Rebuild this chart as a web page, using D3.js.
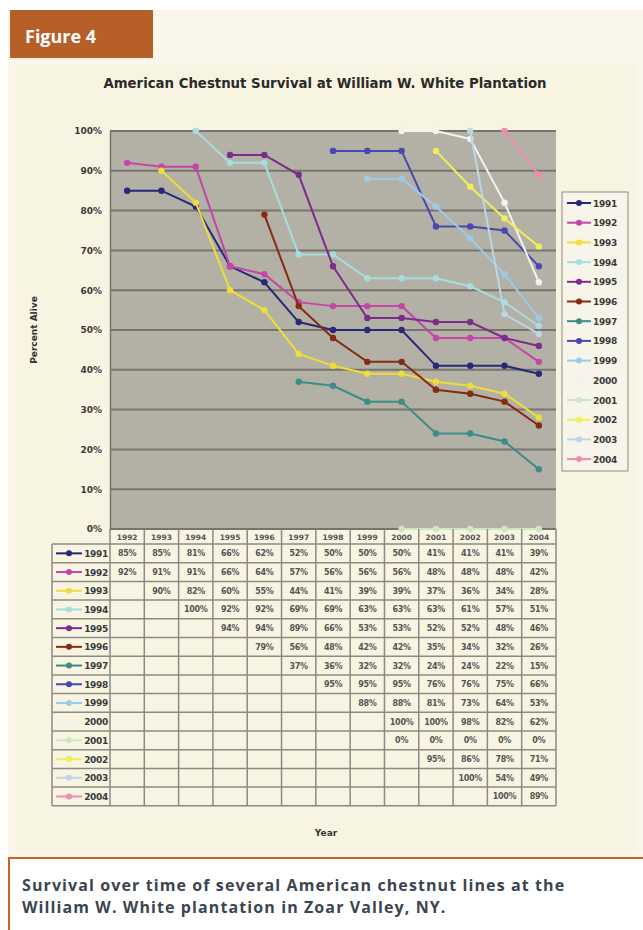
<!DOCTYPE html>
<html>
<head>
<meta charset="utf-8">
<script src="https://cdn.jsdelivr.net/npm/d3@7"></script>
<style>
  body { margin: 0; background: #fff; }
  svg { display: block; }
</style>
</head>
<body>
<div id="chart"></div>
<script>
const years = ['1992', '1993', '1994', '1995', '1996', '1997', '1998', '1999', '2000', '2001', '2002', '2003', '2004']
const lines = ['1991', '1992', '1993', '1994', '1995', '1996', '1997', '1998', '1999', '2000', '2001', '2002', '2003', '2004']
const colors = ['#28287a', '#c446a8', '#eedd3a', '#a6dede', '#7e2c8c', '#862a12', '#3c8c88', '#4a48b0',
  '#9ccbe8', '#f2f2ee', '#cfe6c2', '#f2ee5a', '#bcd6e8', '#ee8cb0']
const _ = null
const values = [
  [85, 85, 81, 66, 62, 52, 50, 50, 50, 41, 41, 41, 39],
  [92, 91, 91, 66, 64, 57, 56, 56, 56, 48, 48, 48, 42],
  [_, 90, 82, 60, 55, 44, 41, 39, 39, 37, 36, 34, 28],
  [_, _, 100, 92, 92, 69, 69, 63, 63, 63, 61, 57, 51],
  [_, _, _, 94, 94, 89, 66, 53, 53, 52, 52, 48, 46],
  [_, _, _, _, 79, 56, 48, 42, 42, 35, 34, 32, 26],
  [_, _, _, _, _, 37, 36, 32, 32, 24, 24, 22, 15],
  [_, _, _, _, _, _, 95, 95, 95, 76, 76, 75, 66],
  [_, _, _, _, _, _, _, 88, 88, 81, 73, 64, 53],
  [_, _, _, _, _, _, _, _, 100, 100, 98, 82, 62],
  [_, _, _, _, _, _, _, _, 0, 0, 0, 0, 0],
  [_, _, _, _, _, _, _, _, _, 95, 86, 78, 71],
  [_, _, _, _, _, _, _, _, _, _, 100, 54, 49],
  [_, _, _, _, _, _, _, _, _, _, _, 100, 89]
]
const yTicks = [0, 10, 20, 30, 40, 50, 60, 70, 80, 90, 100]

const width = 643
const height = 930
const plot = { left: 110, right: 556, top: 131, bottom: 529 }
const rowH = 18.7
const tableTop = plot.bottom
const headerH = 15
const labelLeft = 52
const chartFont = 'DejaVu Sans, Verdana, sans-serif'

const svg = d3.select('#chart').append('svg')
  .attr('width', width)
  .attr('height', height)
  .style('font-family', chartFont)

// page panel
svg.append('rect').attr('x', 8).attr('y', 10).attr('width', width - 8).attr('height', 848).attr('fill', '#faf7ea')
svg.append('rect').attr('x', 16).attr('y', 64).attr('width', width - 22).attr('height', 788).attr('fill', '#f8f4e2')

// figure tag
svg.append('rect').attr('x', 10).attr('y', 10).attr('width', 143).attr('height', 48).attr('fill', '#b65f28')
svg.append('text').attr('x', 25).attr('y', 43)
  .attr('fill', '#fff').attr('font-family', 'Open Sans, sans-serif')
  .attr('font-weight', 700).attr('font-size', 18).text('Figure 4')

// title
svg.append('text').attr('x', 325).attr('y', 88).attr('text-anchor', 'middle')
  .attr('font-weight', 700).attr('font-size', 13.3).attr('fill', '#2a2a2a')
  .text('American Chestnut Survival at William W. White Plantation')

const x = d3.scaleBand().domain(years).range([plot.left, plot.right])
const y = d3.scaleLinear().domain([0, 100]).range([plot.bottom, plot.top])

svg.append('rect').attr('x', plot.left).attr('y', plot.top)
  .attr('width', plot.right - plot.left).attr('height', plot.bottom - plot.top)
  .attr('fill', '#b3b0a6')

// gridlines
svg.append('g').selectAll('line').data(yTicks).join('line')
  .attr('x1', plot.left).attr('x2', plot.right)
  .attr('y1', d => y(d)).attr('y2', d => y(d))
  .attr('stroke', '#77746c').attr('stroke-width', 2)

const yAxis = svg.append('g')
  .attr('transform', `translate(${plot.left},0)`)
  .call(d3.axisLeft(y).tickValues(yTicks).tickSize(0).tickPadding(8).tickFormat(d => d + '%'))
yAxis.select('.domain').attr('stroke', '#77746c').attr('stroke-width', 1.5)
yAxis.selectAll('text').attr('font-size', 9).attr('font-weight', 700).attr('fill', '#3a3a3a')
  .attr('font-family', chartFont)

svg.append('text')
  .attr('transform', `translate(37,${(plot.top + plot.bottom) / 2}) rotate(-90)`)
  .attr('text-anchor', 'middle').attr('font-size', 9).attr('font-weight', 700).attr('fill', '#333')
  .text('Percent Alive')

// series
const line = d3.line()
  .defined(d => d != null)
  .x((d, i) => x(years[i]) + x.bandwidth() / 2)
  .y(d => y(d))

const series = svg.append('g')
values.forEach((vals, s) => {
  const g = series.append('g')
  g.append('path').attr('d', line(vals)).attr('fill', 'none')
    .attr('stroke', colors[s]).attr('stroke-width', 2)
  g.selectAll('circle').data(vals.map((v, i) => ({ v, i })).filter(d => d.v != null)).join('circle')
    .attr('cx', d => x(years[d.i]) + x.bandwidth() / 2)
    .attr('cy', d => y(d.v))
    .attr('r', 3.2)
    .attr('fill', colors[s])
})

// legend
const legend = svg.append('g').attr('transform', 'translate(562,192)')
legend.append('rect').attr('width', 66).attr('height', 279)
  .attr('fill', '#f7f5ea').attr('stroke', '#8c8a82').attr('stroke-width', 1)
lines.forEach((name, i) => {
  const ly = 11 + i * 19.7
  legend.append('line').attr('x1', 5).attr('x2', 29).attr('y1', ly).attr('y2', ly)
    .attr('stroke', colors[i]).attr('stroke-width', 2)
  legend.append('circle').attr('cx', 17).attr('cy', ly).attr('r', 3).attr('fill', colors[i])
  legend.append('text').attr('x', 31).attr('y', ly + 3.5).attr('font-size', 9)
    .attr('font-weight', 700).attr('fill', '#3a3a3a').attr('letter-spacing', -0.3).text(name)
})

// data table
const table = svg.append('g')
const tableBottom = tableTop + headerH + rowH * lines.length

// header cells
table.selectAll('text.hdr').data(years).join('text')
  .attr('class', 'hdr')
  .attr('x', d => x(d) + x.bandwidth() / 2)
  .attr('y', tableTop + 11)
  .attr('text-anchor', 'middle').attr('font-size', 7.5).attr('font-weight', 700).attr('fill', '#555')
  .text(d => d)

// grid
const colEdges = years.map(d => x(d)).concat([plot.right])
table.selectAll('line.v').data(colEdges).join('line')
  .attr('x1', d => d).attr('x2', d => d)
  .attr('y1', tableTop).attr('y2', tableBottom)
  .attr('stroke', '#8c8a82').attr('stroke-width', 1.5)
table.append('line').attr('x1', labelLeft).attr('x2', labelLeft)
  .attr('y1', tableTop + headerH).attr('y2', tableBottom)
  .attr('stroke', '#8c8a82').attr('stroke-width', 1.5)
const rowEdges = d3.range(lines.length + 1).map(i => tableTop + headerH + i * rowH)
table.selectAll('line.h').data(rowEdges).join('line')
  .attr('x1', labelLeft).attr('x2', plot.right)
  .attr('y1', d => d).attr('y2', d => d)
  .attr('stroke', '#8c8a82').attr('stroke-width', 1.5)

// rows
lines.forEach((name, s) => {
  const cy = tableTop + headerH + s * rowH + rowH / 2
  table.append('line').attr('x1', 56).attr('x2', 82).attr('y1', cy).attr('y2', cy)
    .attr('stroke', colors[s]).attr('stroke-width', 2)
  table.append('circle').attr('cx', 69).attr('cy', cy).attr('r', 3).attr('fill', colors[s])
  table.append('text').attr('x', 108).attr('y', cy + 3.5).attr('text-anchor', 'end')
    .attr('font-size', 9).attr('font-weight', 700).attr('fill', '#3a3a3a').attr('letter-spacing', -0.3).text(name)
  values[s].forEach((v, i) => {
    if (v == null) return
    table.append('text')
      .attr('x', x(years[i]) + x.bandwidth() / 2).attr('y', cy + 3)
      .attr('text-anchor', 'middle').attr('font-size', 8).attr('font-weight', 700).attr('fill', '#555')
      .attr('letter-spacing', -0.3)
      .text(v + '%')
  })
})

svg.append('text').attr('x', 326).attr('y', 836).attr('text-anchor', 'middle')
  .attr('font-size', 9).attr('font-weight', 700).attr('fill', '#333').text('Year')

// caption box
svg.append('rect').attr('x', 8).attr('y', 858).attr('width', width - 8).attr('height', 72).attr('fill', '#fff')
svg.append('line').attr('x1', 8).attr('x2', width).attr('y1', 858).attr('y2', 858)
  .attr('stroke', '#c0652c').attr('stroke-width', 2)
svg.append('line').attr('x1', 9).attr('x2', 9).attr('y1', 858).attr('y2', height)
  .attr('stroke', '#c0652c').attr('stroke-width', 2)

const caption = svg.append('text').attr('font-family', 'Open Sans, sans-serif')
  .attr('font-weight', 700).attr('font-size', 16).attr('fill', '#3a4550')
  .attr('letter-spacing', 1.1)
caption.append('tspan').attr('x', 22).attr('y', 891).text('Survival over time of several American chestnut lines at the')
caption.append('tspan').attr('x', 22).attr('y', 913).text('William W. White plantation in Zoar Valley, NY.')
</script>
</body>
</html>
